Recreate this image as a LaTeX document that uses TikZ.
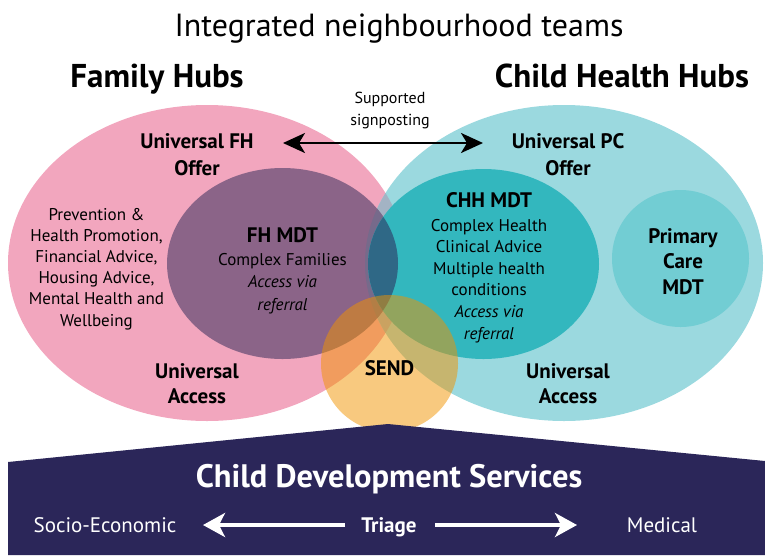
\documentclass[tikz,border=0pt]{standalone}
\usepackage{fontspec}
\setmainfont{PT Sans}
\usetikzlibrary{arrows.meta}
\definecolor{pinkc}{HTML}{F2A6BE}
\definecolor{tealc}{HTML}{9BD9DF}
\definecolor{pinkteal}{HTML}{A3B3C4}
\definecolor{fhmdt}{HTML}{8B6488}
\definecolor{fhteal}{HTML}{766A8B}
\definecolor{chhmdt}{HTML}{33B7BE}
\definecolor{darkov}{HTML}{2F6886}
\definecolor{pcmdt}{HTML}{72CDD3}
\definecolor{sendc}{HTML}{F19300}
\definecolor{navy}{HTML}{2B2659}
\newcommand\PinkE{(207,263) ellipse [x radius=199, y radius=158]}
\newcommand\TealE{(564,263) ellipse [x radius=199, y radius=158]}
\newcommand\FHE{(282.5,263.5) ellipse [x radius=115.5, y radius=95.5]}
\newcommand\CHHE{(483.5,264) ellipse [x radius=115.5, y radius=95]}
\newcommand\PCC{(680.5,258.5) circle [radius=68.5]}
\newcommand\SENDC{(389.5,363.5) circle [radius=68.5]}
\begin{document}
\begin{tikzpicture}[x=1pt,y=-1pt,
  ttl/.style={font=\fontsize{32}{36}\selectfont, anchor=base},
  hub/.style={font=\bfseries\fontsize{33}{38}\selectfont, anchor=base},
  lbl/.style={font=\bfseries\fontsize{21}{26}\selectfont, align=center, anchor=base},
  body/.style={font=\fontsize{17}{21.5}\selectfont, align=center, anchor=base},
  small/.style={font=\fontsize{16}{22}\selectfont, align=center, anchor=base},
  bantitle/.style={font=\bfseries\fontsize{32.5}{36}\selectfont, text=white, anchor=base},
  bansub/.style={font=\fontsize{21}{25}\selectfont, text=white, anchor=base},
  blackarrow/.style={line width=2.6pt, {Stealth[length=22pt,width=20pt,inset=6pt]}-{Stealth[length=22pt,width=20pt,inset=6pt]}},
  whitearrow/.style={white, line width=3.6pt, -{Stealth[length=22pt,width=24pt,inset=6pt]}}
]
\useasboundingbox (0,0) rectangle (765,555);
% circles
\fill[pinkc] \PinkE;
\fill[tealc] \TealE;
\begin{scope}\clip \PinkE; \fill[pinkteal] \TealE; \end{scope}
\fill[fhmdt] \FHE;
\begin{scope}\clip \TealE; \fill[fhteal] \FHE; \end{scope}
\fill[chhmdt] \CHHE;
\begin{scope}\clip \FHE; \fill[darkov] \CHHE; \end{scope}
\fill[pcmdt] \PCC;
\fill[sendc, opacity=0.5] \SENDC;
% banner
\fill[navy] (8,555) -- (8,462) -- (388,424) -- (765,461) -- (765,555) -- cycle;

% titles
\node[ttl] (title) at (399,36) {Integrated neighbourhood teams};
\node[hub] (fhhub) at (157,87) {Family Hubs};
\node[hub] (chhub) at (622,87) {Child Health Hubs};
\node[small] (signp) at (390,125) {Supported\\signposting};
\coordinate (sigL) at (283,143);
\coordinate (sigR) at (483,143);
\draw[blackarrow] (sigL) -- (sigR);

% left ellipse
\node[lbl, font=\bfseries\fontsize{21}{27}\selectfont] (ufh) at (197,175) {Universal FH\\Offer};
\node[body, font=\fontsize{17}{21.2}\selectfont] (prev) at (96.5,326) {Prevention \&\\Health Promotion,\\Financial Advice,\\Housing Advice,\\Mental Health and\\Wellbeing};
\node[lbl] (fhmdtt) at (282.5,242) {FH MDT};
\node[body, font=\fontsize{17}{22.5}\selectfont] (fhmdtb) at (282.5,310) {Complex Families\\\textit{Access via}\\\textit{referral}};
\node[lbl, font=\bfseries\fontsize{21}{25}\selectfont] (uaccl) at (197,403) {Universal\\Access};

% right ellipse
\node[lbl, font=\bfseries\fontsize{21}{27}\selectfont] (upc) at (568,175) {Universal PC\\Offer};
\node[lbl] (chhmdtt) at (489,207) {CHH MDT};
\node[body, font=\fontsize{17}{21.6}\selectfont] (chhmdtb) at (489,339) {Complex Health\\Clinical Advice\\Multiple health\\conditions\\\textit{Access via}\\\textit{referral}};
\node[lbl, font=\bfseries\fontsize{21}{25.5}\selectfont] (pcm) at (683,294) {Primary\\Care\\MDT};
\node[lbl, font=\bfseries\fontsize{21}{25}\selectfont] (uaccr) at (568,403) {Universal\\Access};
\node[lbl] (send) at (389.5,375) {SEND};

% banner text
\node[bantitle] (cds) at (389,487) {Child Development Services};
\node[bansub] (socio) at (105,532) {Socio-Economic};
\node[bansub, font=\bfseries\fontsize{21}{25}\selectfont] (triage) at (389,532) {Triage};
\node[bansub] (medical) at (662,532) {Medical};
\coordinate (laS) at (345,525);
\coordinate (laT) at (203,525);
\coordinate (raS) at (435,525);
\coordinate (raT) at (577,525);
\draw[whitearrow] (laS) -- (laT);
\draw[whitearrow] (raS) -- (raT);
\end{tikzpicture}
\end{document}
